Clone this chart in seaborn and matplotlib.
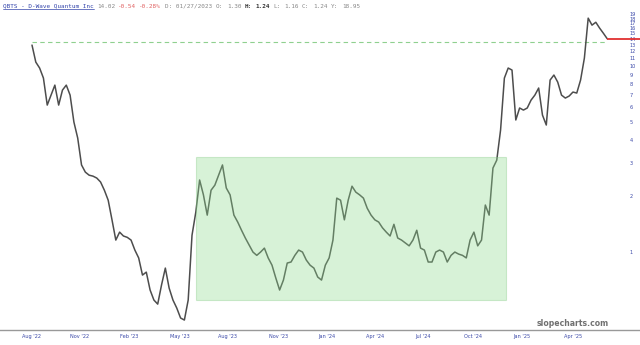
import numpy as np
import pandas as pd
import matplotlib
matplotlib.use("Agg")
import matplotlib.pyplot as plt
import seaborn as sns
from matplotlib.patches import Rectangle
from matplotlib.lines import Line2D

# ---- data (weekly closes) ----
prices = [12.97, 10.5, 9.76, 8.62, 6.17, 6.98, 7.90, 6.17, 7.43, 7.90,
          6.98, 5.00, 4.10, 2.94, 2.69, 2.59, 2.56, 2.50, 2.38, 2.15,
          1.90, 1.49, 1.16, 1.28, 1.22, 1.20, 1.16, 1.025, 0.93, 0.752,
          0.78, 0.625, 0.552, 0.525, 0.665, 0.82, 0.64, 0.552, 0.50, 0.442,
          0.431, 0.552, 1.23, 1.64, 2.44, 2.03, 1.58, 2.15, 2.29, 2.59,
          2.94, 2.21, 2.03, 1.58, 1.45, 1.31, 1.19, 1.09, 1.00, 0.96,
          1.00, 1.05, 0.93, 0.85, 0.725, 0.625, 0.707, 0.873, 0.884, 0.96,
          1.025, 1.00, 0.906, 0.85, 0.82, 0.734, 0.707, 0.85, 0.93, 1.16,
          1.95, 1.90, 1.49, 1.90, 2.26, 2.10, 2.03, 1.95, 1.72, 1.58,
          1.49, 1.45, 1.35, 1.28, 1.22, 1.41, 1.19, 1.16, 1.12, 1.08,
          1.16, 1.31, 1.05, 1.025, 0.884, 0.884, 1.00, 1.025, 1.00, 0.884,
          0.96, 1.00, 0.975, 0.96, 0.93, 1.16, 1.28, 1.08, 1.16, 1.79,
          1.58, 2.83, 3.12, 4.53, 8.62, 9.76, 9.52, 5.13, 5.95, 5.80,
          5.95, 6.56, 6.98, 7.62, 5.45, 4.82, 8.41, 8.95, 8.20, 6.98,
          6.73, 6.90, 7.25, 7.16, 8.41, 11.04, 18.1, 16.6, 17.2, 16.0,
          15.0, 14.02]
weeks = np.arange(len(prices))

tick_pos = [0, 12.6, 25.5, 38.8, 51.4, 64.6, 77.4, 90.0, 102.6, 115.7, 128.6, 142.0]
tick_labels = ["Aug '22", "Nov '22", "Feb '23", "May '23", "Aug '23", "Nov '23",
               "Jan '24", "Apr '24", "Jul '24", "Oct '24", "Jan '25", "Apr '25"]
y_ticks = list(range(1, 20))

resistance = 13.5
box_x = [43.0, 124.4]
box_y = [0.552, 3.24]
last_price = prices[-1]

df = pd.DataFrame({"week": weeks, "close": prices})

# ---- figure ----
sns.set_theme(style="white")
plt.rcParams["font.family"] = ["DejaVu Sans"]
fig = plt.figure(figsize=(6.4, 3.45), dpi=100)
ax = fig.add_axes([0, 15 / 345, 1, 325 / 345])

sns.lineplot(data=df, x="week", y="close", ax=ax, color="#4d4d4d", linewidth=1.1, zorder=2)

ax.set_yscale("log")
ax.set_ylim(0.381, 21.3)
ax.set_xlim(-8.4, 159.6)
xmin, xmax = ax.get_xlim()

# resistance and last price lines
ax.hlines(resistance, weeks[0], weeks[-1], colors="#8fd08f", linestyles=(0, (4, 3)), linewidth=0.8, zorder=1)
ax.hlines(last_price, weeks[-1], xmax, colors="#e03030", linewidth=1.3, zorder=3)

# consolidation box (drawn over the price line)
ax.add_patch(Rectangle((box_x[0], box_y[0]), box_x[1] - box_x[0], box_y[1] - box_y[0],
                       facecolor="#8fdc8f", alpha=0.35, edgecolor="#7fc87f", linewidth=0.8, zorder=4))

# axes styling
for s in ["top", "left", "right"]:
    ax.spines[s].set_visible(False)
ax.spines["bottom"].set_color("#999999")
ax.spines["bottom"].set_linewidth(1.0)

ax.set_xticks(tick_pos)
ax.set_xticklabels(tick_labels)
ax.yaxis.tick_right()
ax.set_yticks(y_ticks)
ax.set_yticklabels([str(v) for v in y_ticks])
ax.yaxis.set_minor_locator(matplotlib.ticker.NullLocator())
ax.tick_params(axis="x", length=0, pad=3, labelsize=3.6, labelcolor="#3a48a8")
ax.tick_params(axis="y", length=0, pad=-7.5, labelsize=3.6, labelcolor="#3a48a8")
for lab in ax.get_yticklabels():
    lab.set_horizontalalignment("left")
ax.set_xlabel("")
ax.set_ylabel("")
ax.grid(False)

# watermark
fig.text(573 / 640, 1 - 323 / 345, "slopecharts.com", ha="center", va="center",
         fontsize=5.6, fontweight="bold", color="#707070")

# header
mono = "DejaVu Sans Mono"
yh = 1 - 6 / 345
segments = [
    (3, "QBTS - D-Wave Quantum Inc", "#3344aa", "normal"),
    (97, "14.02", "#888888", "normal"),
    (118, "-0.54", "#e06060", "normal"),
    (139, "-0.28%", "#e06060", "normal"),
    (165, "D: 01/27/2023", "#888888", "normal"),
    (216, "O:", "#888888", "normal"),
    (227, "1.30", "#888888", "normal"),
    (245, "H:", "#333333", "bold"),
    (255, "1.24", "#333333", "bold"),
    (273, "L:", "#888888", "normal"),
    (284, "1.16", "#888888", "normal"),
    (302, "C:", "#888888", "normal"),
    (313, "1.24", "#888888", "normal"),
    (331, "Y:", "#888888", "normal"),
    (342, "18.95", "#888888", "normal"),
]
for x, txt, col, wt in segments:
    fig.text(x / 640, yh, txt, ha="left", va="center", fontsize=4.3,
             family=mono, color=col, fontweight=wt)
fig.add_artist(Line2D([3 / 640, 94 / 640], [1 - 9.0 / 345, 1 - 9.0 / 345],
                      color="#3344aa", linewidth=0.5))

fig.savefig("out.png", dpi=100)
